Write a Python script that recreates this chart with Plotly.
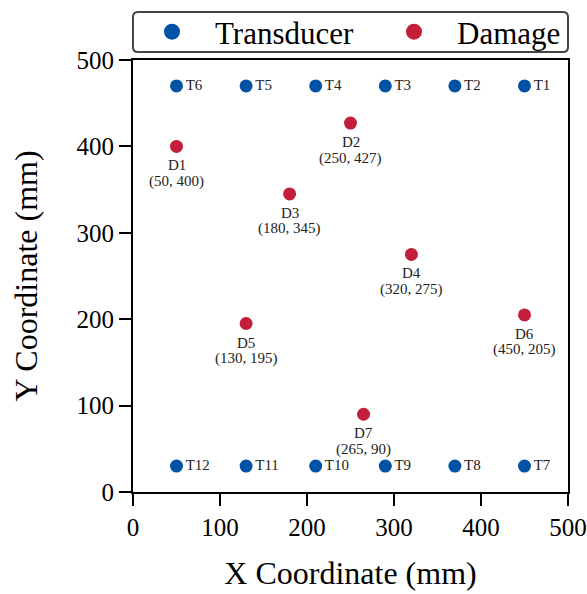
import plotly.graph_objects as go

t_names = ["T1", "T2", "T3", "T4", "T5", "T6", "T7", "T8", "T9", "T10", "T11", "T12"]
t_x = [450, 370, 290, 210, 130, 50, 450, 370, 290, 210, 130, 50]
t_y = [470, 470, 470, 470, 470, 470, 30, 30, 30, 30, 30, 30]

d_names = ["D1", "D2", "D3", "D4", "D5", "D6", "D7"]
d_x = [50, 250, 180, 320, 130, 450, 265]
d_y = [400, 427, 345, 275, 195, 205, 90]

blue = "#0052A5"
red = "#C41E3A"
font = "Liberation Serif"
txtcol = "#222"

fig = go.Figure()
fig.add_trace(go.Scatter(
    x=t_x, y=t_y, mode="markers+text", name="Transducer", showlegend=False,
    marker=dict(color=blue, size=13),
    text=t_names, textposition="middle right",
    textfont=dict(family=font, size=15, color=txtcol),
))
fig.add_trace(go.Scatter(
    x=d_x, y=d_y, mode="markers", name="Damage", showlegend=False,
    marker=dict(color=red, size=13),
))
# legend entries
fig.add_trace(go.Scatter(x=[None], y=[None], mode="markers", name="Transducer",
                         marker=dict(color=blue, size=16), legend="legend"))
fig.add_trace(go.Scatter(x=[None], y=[None], mode="markers", name="Damage",
                         marker=dict(color=red, size=16), legend="legend2"))

annotations = []
for n, x, y in zip(d_names, d_x, d_y):
    annotations.append(dict(x=x, y=y, text=n, showarrow=False, yshift=-19,
                            yanchor="middle", font=dict(family=font, size=15, color=txtcol)))
    annotations.append(dict(x=x, y=y, text=f"({x}, {y})", showarrow=False, yshift=-35,
                            yanchor="middle", font=dict(family=font, size=15, color=txtcol)))

axis_common = dict(
    range=[0, 500], dtick=100, showgrid=False, zeroline=False,
    showline=True, linecolor="black", linewidth=2, mirror=True,
    ticks="outside", ticklen=12, tickwidth=2, tickcolor="black",
    tickfont=dict(family=font, size=25, color="black"),
)
fig.update_xaxes(**axis_common, title=dict(text="X Coordinate (mm)", font=dict(family=font, size=32, color="black"), standoff=22))
fig.update_yaxes(**axis_common, title=dict(text="Y Coordinate (mm)", font=dict(family=font, size=32, color="black"), standoff=29))

# rounded legend frame in paper coordinates
ph, pw = 432.0, 435.0
x0, x1 = 0.0, 1.0
y0, y1 = 1 + 8 / ph, 1 + 48 / ph
rx, ry = 5 / pw, 5 / ph
path = (f"M {x0+rx},{y0} L {x1-rx},{y0} Q {x1},{y0} {x1},{y0+ry} "
        f"L {x1},{y1-ry} Q {x1},{y1} {x1-rx},{y1} L {x0+rx},{y1} "
        f"Q {x0},{y1} {x0},{y1-ry} L {x0},{y0+ry} Q {x0},{y0} {x0+rx},{y0} Z")

leg_common = dict(
    orientation="h", yanchor="middle", y=1 + 28 / ph, xanchor="left",
    font=dict(family=font, size=31, color="black"),
    borderwidth=0, bgcolor="rgba(0,0,0,0)",
    itemsizing="trace", itemwidth=76,
)

fig.update_layout(
    width=587, height=594,
    margin=dict(l=133, r=19, t=60, b=102, autoexpand=False),
    plot_bgcolor="white", paper_bgcolor="white",
    font=dict(family=font),
    annotations=annotations,
    shapes=[dict(type="path", path=path, xref="paper", yref="paper",
                 line=dict(color="#444", width=2), fillcolor="rgba(0,0,0,0)")],
    legend=dict(**leg_common, x=(129 - 133) / pw),
    legend2=dict(**leg_common, x=(371 - 133) / pw),
)

fig.write_html("out.html", config={"displayModeBar": False},
               post_script="document.body.style.margin='0';")
